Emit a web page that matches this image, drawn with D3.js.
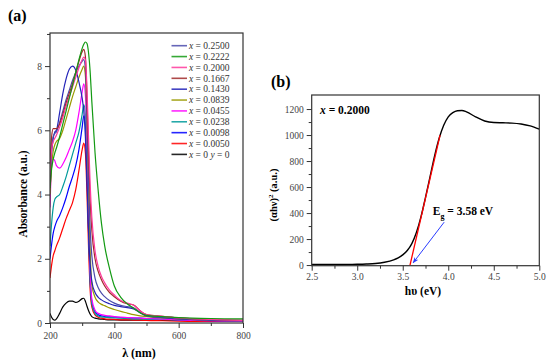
<!DOCTYPE html>
<html><head><meta charset="utf-8">
<script src="https://cdn.jsdelivr.net/npm/d3@7"></script>
<style>
body{margin:0;background:#fff;}
svg text{font-family:"Liberation Serif","Times New Roman",serif;}
</style></head>
<body><svg id="c" width="550" height="361"></svg>
<script>
// ---------- Panel (a) data ----------
const wavelengths = [200,205,210,215,220,230,240,250,260,270,280,290,300,305,310,315,320,325,330,340,350,360,370,385,400,420,440,460,480,500,550,600,700,800];
const seriesLabels = ["0.2500","0.2222","0.2000","0.1667","0.1430","0.0839","0.0455","0.0238","0.0098","0.0050","0"];
const seriesColors = ["#4b4bab","#139a13","#ff3a9c","#a02a2a","#2323b8","#9a9a00","#ff00ff","#009a9a","#0000ff","#ff0000","#000000"];
const abs_2500 = [4.50,5.50,5.80,5.90,5.95,6.25,6.60,6.95,7.25,7.55,7.80,8.00,8.15,8.20,7.90,6.40,4.30,2.90,2.10,1.40,1.10,0.93,0.82,0.70,0.62,0.55,0.51,0.47,0.33,0.23,0.18,0.14,0.10,0.08];
const abs_2222 = [4.20,4.80,5.10,5.30,5.45,5.80,6.20,6.60,7.00,7.40,7.80,8.20,8.55,8.68,8.75,8.70,8.40,7.80,6.90,5.30,4.10,3.10,2.40,1.70,1.15,0.80,0.60,0.46,0.32,0.24,0.20,0.17,0.14,0.13];
const abs_2000 = [4.60,5.40,5.65,5.75,5.85,6.10,6.40,6.75,7.05,7.35,7.65,7.95,8.20,8.28,8.20,7.30,5.70,4.30,3.30,2.25,1.75,1.45,1.25,1.02,0.87,0.70,0.62,0.55,0.38,0.26,0.21,0.16,0.11,0.08];
const abs_1667 = [4.80,5.80,6.05,6.05,6.05,6.20,6.50,6.85,7.15,7.45,7.80,8.15,8.45,8.52,8.30,7.00,5.20,3.80,2.90,2.00,1.60,1.35,1.15,0.95,0.82,0.68,0.60,0.56,0.38,0.26,0.21,0.16,0.11,0.08];
const abs_1430 = [4.40,5.30,5.75,5.95,6.00,6.55,7.15,7.60,7.90,8.00,7.88,7.50,7.00,6.60,5.80,4.40,2.80,1.80,1.30,0.95,0.80,0.72,0.66,0.60,0.55,0.51,0.48,0.44,0.32,0.22,0.17,0.13,0.09,0.07];
const abs_0839 = [4.00,4.90,5.35,5.55,5.65,5.75,6.00,6.35,6.70,7.05,7.35,7.65,7.90,8.00,7.70,6.20,4.00,2.20,1.20,0.80,0.65,0.58,0.54,0.47,0.42,0.36,0.31,0.26,0.22,0.20,0.16,0.13,0.09,0.07];
const abs_0455 = [3.60,4.90,5.10,5.05,4.90,4.82,4.95,5.15,5.40,5.65,6.00,6.55,7.20,7.45,7.10,5.60,3.40,1.60,0.75,0.40,0.30,0.26,0.24,0.22,0.20,0.18,0.17,0.16,0.15,0.14,0.12,0.10,0.07,0.06];
const abs_0238 = [2.40,3.10,3.60,3.85,3.92,4.00,4.25,4.55,4.90,5.25,5.60,5.95,6.50,6.80,6.50,5.00,2.90,1.30,0.60,0.30,0.22,0.19,0.18,0.17,0.16,0.15,0.14,0.13,0.13,0.12,0.11,0.10,0.08,0.06];
const abs_0098 = [2.00,2.45,2.80,3.00,3.15,3.35,3.60,3.90,4.25,4.55,4.90,5.40,6.10,6.45,6.20,4.80,2.80,1.30,0.65,0.35,0.26,0.22,0.20,0.19,0.18,0.17,0.16,0.15,0.15,0.14,0.12,0.10,0.07,0.05];
const abs_0050 = [1.40,1.80,2.10,2.25,2.40,2.65,2.95,3.25,3.50,3.75,4.15,4.75,5.40,5.60,5.30,4.00,2.30,1.00,0.50,0.25,0.18,0.15,0.13,0.12,0.11,0.10,0.10,0.09,0.09,0.08,0.07,0.06,0.05,0.05];
const abs_0000 = [0.30,0.18,0.11,0.09,0.13,0.30,0.50,0.62,0.68,0.68,0.64,0.68,0.76,0.77,0.68,0.52,0.38,0.27,0.20,0.15,0.13,0.12,0.11,0.10,0.10,0.09,0.09,0.09,0.09,0.09,0.08,0.08,0.07,0.07];
const absSeries = [abs_2500,abs_2222,abs_2000,abs_1667,abs_1430,abs_0839,abs_0455,abs_0238,abs_0098,abs_0050,abs_0000];
const aXTicks = [200,400,600,800];
const aYTicks = [0,2,4,6,8];

// ---------- Panel (b) data ----------
const photonEnergy = [2.5,2.7,2.9,3.0,3.1,3.2,3.3,3.4,3.45,3.5,3.55,3.6,3.65,3.7,3.75,3.8,3.85,3.9,3.95,4.0,4.05,4.1,4.15,4.2,4.3,4.4,4.5,4.6,4.7,4.8,4.9,5.0];
const tauc = [4,4,5,6,8,12,22,40,55,78,112,165,250,370,520,680,840,975,1075,1140,1172,1187,1189,1178,1140,1108,1096,1094,1092,1085,1070,1045];
const fitX = [3.58,3.91];
const fitY = [0,1000];
const arrowX = [3.955,3.615];
const arrowY = [330,18];
const bXTicks = [2.5,3.0,3.5,4.0,4.5,5.0];
const bYTicks = [0,200,400,600,800,1000,1200];

const svg = d3.select("#c");
const defs = svg.append("defs");
const axisCol = "#333";
const tickTextCol = "#444";

function frame(x0,y0,x1,y1){
  svg.append("rect").attr("x",x0).attr("y",y0).attr("width",x1-x0).attr("height",y1-y0)
    .attr("fill","none").attr("stroke",axisCol).attr("stroke-width",1.2);
}
function styleAxis(g){
  g.select(".domain").remove();
  g.attr("font-family",null);
  g.selectAll("line").attr("stroke",axisCol).attr("stroke-width",1);
  g.selectAll("text").attr("fill",tickTextCol).style("font-size","9.5px")
   .style("font-family","'Liberation Serif','Times New Roman',serif");
}

// ---------- Panel (a) ----------
const xa = d3.scaleLinear().domain([200,800]).range([50,243]);
const ya = d3.scaleLinear().domain([0,9.03]).range([323,33]);
defs.append("clipPath").attr("id","clipA").append("rect").attr("x",50).attr("y",33).attr("width",193).attr("height",290);

svg.append("g").attr("transform","translate(0,323)")
  .call(d3.axisBottom(xa).tickValues(d3.range(300,800,200)).tickSize(3).tickFormat(""))
  .call(styleAxis);
svg.append("g").attr("transform","translate(0,323)")
  .call(d3.axisBottom(xa).tickValues(aXTicks).tickSize(5).tickPadding(4).tickFormat(d3.format("d")))
  .call(styleAxis);
svg.append("g").attr("transform","translate(50,0)")
  .call(d3.axisLeft(ya).tickValues([1,3,5,7,9]).tickSize(3).tickFormat(""))
  .call(styleAxis);
svg.append("g").attr("transform","translate(50,0)")
  .call(d3.axisLeft(ya).tickValues(aYTicks).tickSize(5).tickPadding(3).tickFormat(d3.format("d")))
  .call(styleAxis);

const lineA = d3.line().x((d,i)=>xa(wavelengths[i])).y(d=>ya(d)).curve(d3.curveMonotoneX);
const gA = svg.append("g").attr("clip-path","url(#clipA)");
const drawOrder = [10,9,8,7,6,5,4,0,3,2,1];
drawOrder.forEach(k=>{
  gA.append("path").attr("d",lineA(absSeries[k])).attr("fill","none")
    .attr("stroke",seriesColors[k]).attr("stroke-width",1.2).attr("stroke-linejoin","round");
});
frame(50,33,243,323);

// legend
const lg = svg.append("g");
seriesLabels.forEach((lab,i)=>{
  const y = 45.7 + i*10.87;
  lg.append("line").attr("x1",171.5).attr("x2",187).attr("y1",y).attr("y2",y)
    .attr("stroke",seriesColors[i]).attr("stroke-width",1.6).attr("stroke-opacity",0.85);
  const t = lg.append("text").attr("x",189).attr("y",y+3.3).attr("fill","#333").style("font-size","9.5px");
  t.append("tspan").style("font-style","italic").text("x");
  t.append("tspan").text(" = " + lab);
  if(lab==="0"){
    t.append("tspan").text("  ");
    t.append("tspan").style("font-style","italic").text("y");
    t.append("tspan").text(" = 0");
  }
});

svg.append("text").attr("x",8).attr("y",21).style("font-size","16px").style("font-weight","bold").text("(a)");
svg.append("text").attr("transform","translate(27,194) rotate(-90)").attr("text-anchor","middle")
  .style("font-size","11.5px").style("font-weight","bold").text("Absorbance  (a.u.)");
svg.append("text").attr("x",139).attr("y",357).attr("text-anchor","middle")
  .style("font-size","12px").style("font-weight","bold").text("λ (nm)");

// ---------- Panel (b) ----------
const xb = d3.scaleLinear().domain([2.5,5.0]).range([311.7,539.3]);
const yb = d3.scaleLinear().domain([-5,1308]).range([265.7,95]);
defs.append("clipPath").attr("id","clipB").append("rect").attr("x",311.7).attr("y",95).attr("width",227.6).attr("height",170.7);

svg.append("g").attr("transform","translate(0,265.7)")
  .call(d3.axisBottom(xb).tickValues(d3.range(2.75,5.0,0.5)).tickSize(3).tickFormat(""))
  .call(styleAxis);
svg.append("g").attr("transform","translate(0,265.7)")
  .call(d3.axisBottom(xb).tickValues(bXTicks).tickSize(5).tickPadding(3).tickFormat(d3.format(".1f")))
  .call(styleAxis);
svg.append("g").attr("transform","translate(311.7,0)")
  .call(d3.axisLeft(yb).tickValues(d3.range(100,1300,200)).tickSize(3).tickFormat(""))
  .call(styleAxis);
svg.append("g").attr("transform","translate(311.7,0)")
  .call(d3.axisLeft(yb).tickValues(bYTicks).tickSize(5).tickPadding(3).tickFormat(d3.format("d")))
  .call(styleAxis);

const gB = svg.append("g").attr("clip-path","url(#clipB)");
const lineB = d3.line().x((d,i)=>xb(photonEnergy[i])).y(d=>yb(d)).curve(d3.curveMonotoneX);
gB.append("path").attr("d",lineB(tauc)).attr("fill","none").attr("stroke","#000").attr("stroke-width",1.4);
gB.append("line").attr("x1",xb(fitX[0])).attr("y1",yb(fitY[0])).attr("x2",xb(fitX[1])).attr("y2",yb(fitY[1]))
  .attr("stroke","#ff0000").attr("stroke-width",1.3);
frame(311.7,95,539.3,265.7);

// arrow
defs.append("marker").attr("id","arr").attr("viewBox","0 0 10 10").attr("refX",9).attr("refY",5)
  .attr("markerWidth",6).attr("markerHeight",6).attr("orient","auto")
  .append("path").attr("d","M0,1 L10,5 L0,9 L3,5 Z").attr("fill","#2a3cff");
svg.append("line").attr("x1",xb(arrowX[0])).attr("y1",yb(arrowY[0])).attr("x2",xb(arrowX[1])).attr("y2",yb(arrowY[1]))
  .attr("stroke","#2a3cff").attr("stroke-width",1).attr("marker-end","url(#arr)");

const eg = svg.append("text").attr("x",xb(3.83)).attr("y",yb(385)).style("font-size","11.5px").style("font-weight","bold");
eg.append("tspan").text("E");
eg.append("tspan").attr("dy",4).style("font-size","8px").text("g");
eg.append("tspan").attr("dy",-4).text(" = 3.58 eV");

const xt = svg.append("text").attr("x",320).attr("y",114).style("font-size","11.5px").style("font-weight","bold");
xt.append("tspan").style("font-style","italic").text("x");
xt.append("tspan").text(" = 0.2000");

svg.append("text").attr("x",271).attr("y",87).style("font-size","16px").style("font-weight","bold").text("(b)");
const yl = svg.append("text").attr("transform","translate(277,195) rotate(-90)").attr("text-anchor","middle")
  .style("font-size","10.5px").style("font-weight","bold");
yl.append("tspan").text("(αhν)");
yl.append("tspan").attr("dy",-4).style("font-size","7px").text("2");
yl.append("tspan").attr("dy",4).text("   (a.u.)");
svg.append("text").attr("x",423).attr("y",295).attr("text-anchor","middle")
  .style("font-size","11.5px").style("font-weight","bold").text("hυ  (eV)");
</script></body></html>
